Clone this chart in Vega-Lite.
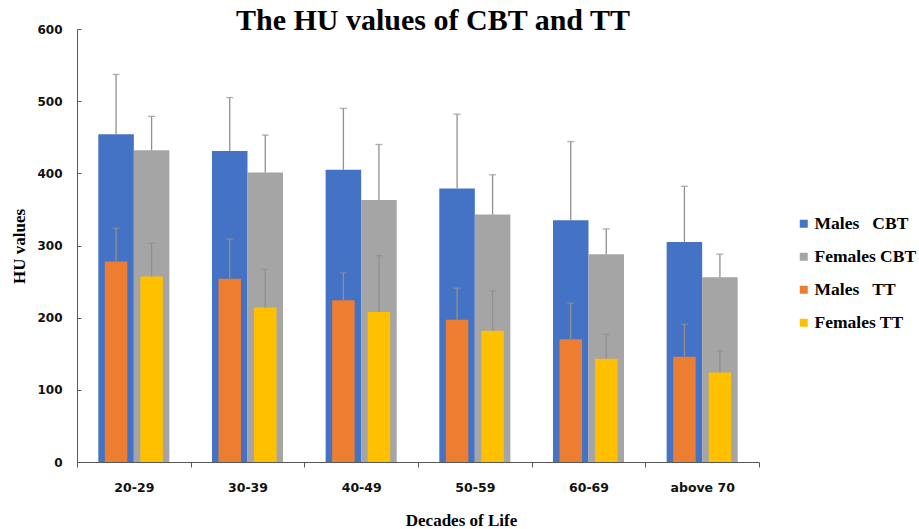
{
  "$schema": "https://vega.github.io/schema/vega-lite/v6.json",
  "width": 682,
  "height": 433,
  "autosize": {"type": "none"},
  "padding": {"left": 77, "top": 29, "right": 160, "bottom": 67},
  "background": "white",
  "title": {
    "text": "The HU values of CBT and TT",
    "font": "Liberation Serif",
    "fontSize": 30,
    "fontWeight": "bold",
    "color": "#000000",
    "anchor": "middle",
    "dx": 15,
    "offset": -13
  },
  "data": {
    "values": [
      {"decade": "20-29", "sex": "Males", "type": "CBT", "series": "Males CBT", "value": 454, "upper": 537},
      {"decade": "20-29", "sex": "Females", "type": "CBT", "series": "Females CBT", "value": 432, "upper": 479},
      {"decade": "20-29", "sex": "Males", "type": "TT", "series": "Males TT", "value": 278, "upper": 324},
      {"decade": "20-29", "sex": "Females", "type": "TT", "series": "Females TT", "value": 257, "upper": 303},
      {"decade": "30-39", "sex": "Males", "type": "CBT", "series": "Males CBT", "value": 431, "upper": 505},
      {"decade": "30-39", "sex": "Females", "type": "CBT", "series": "Females CBT", "value": 401, "upper": 453},
      {"decade": "30-39", "sex": "Males", "type": "TT", "series": "Males TT", "value": 254, "upper": 309},
      {"decade": "30-39", "sex": "Females", "type": "TT", "series": "Females TT", "value": 214, "upper": 267},
      {"decade": "40-49", "sex": "Males", "type": "CBT", "series": "Males CBT", "value": 405, "upper": 490},
      {"decade": "40-49", "sex": "Females", "type": "CBT", "series": "Females CBT", "value": 363, "upper": 440},
      {"decade": "40-49", "sex": "Males", "type": "TT", "series": "Males TT", "value": 224, "upper": 262},
      {"decade": "40-49", "sex": "Females", "type": "TT", "series": "Females TT", "value": 208, "upper": 286},
      {"decade": "50-59", "sex": "Males", "type": "CBT", "series": "Males CBT", "value": 379, "upper": 482},
      {"decade": "50-59", "sex": "Females", "type": "CBT", "series": "Females CBT", "value": 343, "upper": 398},
      {"decade": "50-59", "sex": "Males", "type": "TT", "series": "Males TT", "value": 197, "upper": 241},
      {"decade": "50-59", "sex": "Females", "type": "TT", "series": "Females TT", "value": 182, "upper": 237},
      {"decade": "60-69", "sex": "Males", "type": "CBT", "series": "Males CBT", "value": 335, "upper": 444},
      {"decade": "60-69", "sex": "Females", "type": "CBT", "series": "Females CBT", "value": 288, "upper": 323},
      {"decade": "60-69", "sex": "Males", "type": "TT", "series": "Males TT", "value": 170, "upper": 220},
      {"decade": "60-69", "sex": "Females", "type": "TT", "series": "Females TT", "value": 143, "upper": 177},
      {"decade": "above 70", "sex": "Males", "type": "CBT", "series": "Males CBT", "value": 305, "upper": 382},
      {"decade": "above 70", "sex": "Females", "type": "CBT", "series": "Females CBT", "value": 256, "upper": 288},
      {"decade": "above 70", "sex": "Males", "type": "TT", "series": "Males TT", "value": 146, "upper": 191},
      {"decade": "above 70", "sex": "Females", "type": "TT", "series": "Females TT", "value": 124, "upper": 154}
    ]
  },
  "encoding": {
    "x": {
      "field": "decade",
      "type": "nominal",
      "sort": null,
      "scale": {"paddingInner": 0, "paddingOuter": 0},
      "axis": {
        "title": "Decades of Life",
        "titleFont": "Liberation Serif",
        "titleFontSize": 17,
        "titleFontWeight": "bold",
        "titleColor": "#000000",
        "titleAlign": "center",
        "titleBaseline": "alphabetic",
        "titleX": 384,
        "titleY": 63,
        "labelFont": "DejaVu Sans",
        "labelFontWeight": "bold",
        "labelFontSize": 12.5,
        "labelColor": "#111111",
        "labelAngle": 0,
        "labelPadding": 14,
        "tickBand": "extent",
        "tickSize": 5,
        "tickColor": "#595959",
        "domainColor": "#595959",
        "grid": false
      }
    },
    "xOffset": {
      "field": "sex",
      "type": "nominal",
      "sort": ["Males", "Females"],
      "scale": {"paddingInner": 0, "paddingOuter": 0.6}
    },
    "y": {
      "field": "value",
      "type": "quantitative",
      "scale": {"domain": [0, 600]},
      "axis": {
        "values": [0, 100, 200, 300, 400, 500, 600],
        "title": "HU values",
        "titleFont": "Liberation Serif",
        "titleFontSize": 17,
        "titleFontWeight": "bold",
        "titleColor": "#000000",
        "titleAngle": -90,
        "titleAlign": "center",
        "titleBaseline": "alphabetic",
        "titleX": -53,
        "titleY": 217,
        "labelFont": "DejaVu Sans",
        "labelFontWeight": "bold",
        "labelFontSize": 12,
        "labelColor": "#111111",
        "labelPadding": 19,
        "tickSize": -4,
        "tickColor": "#595959",
        "domainColor": "#595959",
        "grid": false
      }
    }
  },
  "layer": [
    {
      "transform": [{"filter": "datum.type == 'CBT'"}],
      "mark": {"type": "bar"},
      "encoding": {
        "color": {
          "field": "series",
          "type": "nominal",
          "scale": {
            "domain": ["Males CBT", "Females CBT", "Males TT", "Females TT"],
            "range": ["#4472C4", "#A5A5A5", "#ED7D31", "#FFC000"]
          },
          "legend": {
            "orient": "none",
            "legendX": 718,
            "legendY": 186,
            "title": null,
            "padding": 0,
            "symbolType": "square",
            "symbolSize": 64,
            "symbolStrokeWidth": 0,
            "labelFont": "Liberation Serif",
            "labelFontWeight": "bold",
            "labelFontSize": 17.5,
            "labelColor": "#000000",
            "labelOffset": 2,
            "rowPadding": 14,
            "labelExpr": "datum.label == 'Males CBT' ? 'Males\u00a0\u00a0\u00a0CBT' : datum.label == 'Females CBT' ? '\u00a0Females CBT' : datum.label == 'Males TT' ? 'Males\u00a0\u00a0\u00a0TT' : '\u00a0Females TT'"
          }
        }
      }
    },
    {
      "transform": [{"filter": "datum.type == 'CBT'"}],
      "mark": {"type": "rule", "color": "#909090", "strokeWidth": 1.3},
      "encoding": {"y2": {"field": "upper"}}
    },
    {
      "transform": [{"filter": "datum.type == 'CBT'"}],
      "mark": {"type": "tick", "color": "#909090", "thickness": 1.3, "size": 7, "orient": "horizontal"},
      "encoding": {"y": {"field": "upper", "type": "quantitative"}}
    },
    {
      "transform": [{"filter": "datum.type == 'TT'"}],
      "mark": {"type": "bar", "size": 22.5},
      "encoding": {"color": {"field": "series", "type": "nominal"}}
    },
    {
      "transform": [{"filter": "datum.type == 'TT'"}],
      "mark": {"type": "rule", "color": "#909090", "strokeWidth": 1.3},
      "encoding": {"y2": {"field": "upper"}}
    },
    {
      "transform": [{"filter": "datum.type == 'TT'"}],
      "mark": {"type": "tick", "color": "#909090", "thickness": 1.3, "size": 7, "orient": "horizontal"},
      "encoding": {"y": {"field": "upper", "type": "quantitative"}}
    }
  ],
  "config": {"view": {"stroke": null}}
}
